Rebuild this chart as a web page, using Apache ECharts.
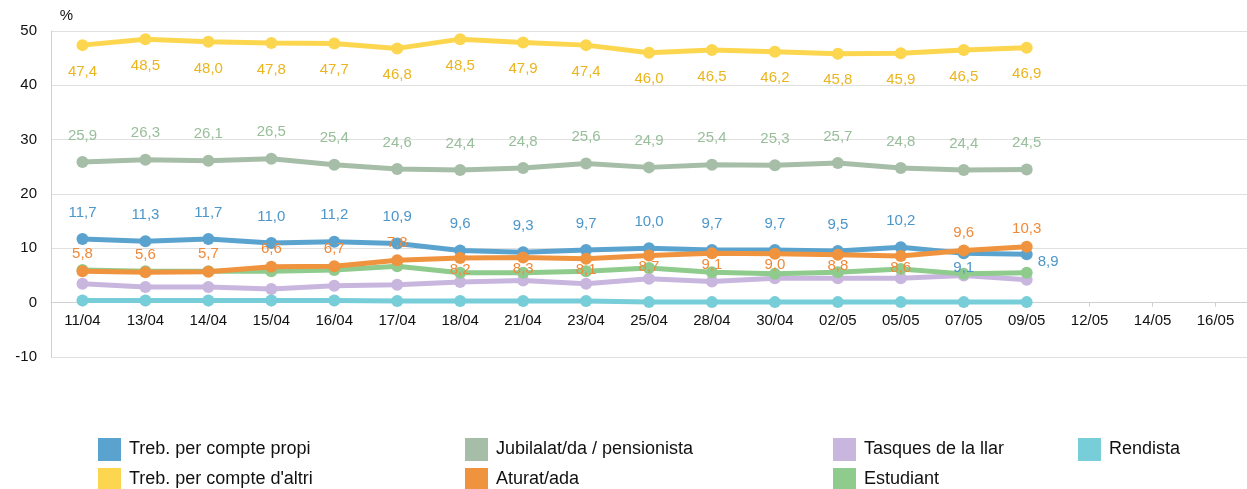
<!DOCTYPE html>
<html>
<head>
<meta charset="utf-8">
<script src="https://cdn.jsdelivr.net/npm/echarts@6/dist/echarts.min.js"></script>
<style>html,body{margin:0;padding:0;background:#fff}#c{width:1247px;height:489px}</style>
</head>
<body>
<div id="c"></div>
<script>
const categories = ['11/04','13/04','14/04','15/04','16/04','17/04','18/04','21/04','23/04','25/04','28/04','30/04','02/05','05/05','07/05','09/05','12/05','14/05','16/05'];
const propi = [11.7,11.3,11.7,11.0,11.2,10.9,9.6,9.3,9.7,10.0,9.7,9.7,9.5,10.2,9.1,8.9];
const altri = [47.4,48.5,48.0,47.8,47.7,46.8,48.5,47.9,47.4,46.0,46.5,46.2,45.8,45.9,46.5,46.9];
const jubilat = [25.9,26.3,26.1,26.5,25.4,24.6,24.4,24.8,25.6,24.9,25.4,25.3,25.7,24.8,24.4,24.5];
const aturat = [5.8,5.6,5.7,6.6,6.7,7.8,8.2,8.3,8.1,8.7,9.1,9.0,8.8,8.6,9.6,10.3];
const tasques = [3.5,2.9,2.9,2.5,3.1,3.3,3.8,4.1,3.5,4.4,3.9,4.5,4.5,4.5,5.0,4.2];
const estudiant = [6.0,5.8,5.8,5.8,6.0,6.7,5.5,5.5,5.8,6.4,5.6,5.3,5.6,6.2,5.3,5.5];
const rendista = [0.4,0.4,0.4,0.4,0.4,0.3,0.3,0.3,0.3,0.1,0.1,0.1,0.1,0.1,0.1,0.1];
const yTicks = [-10,0,10,20,30,40,50];

const fmt = v => (typeof v === 'object' ? v.value : v).toFixed(1).replace('.', ',');
const C = {
  propi:'#5BA3CF', altri:'#FDD64F', jubilat:'#A6BEA8', aturat:'#F0933E',
  tasques:'#C9B6DE', estudiant:'#8FCB8D', rendista:'#77CDD8'
};
const LC = { propi:'#4C96C9', altri:'#EBB51E', jubilat:'#98BE9A', aturat:'#F0893A' };
const FONT = 'Liberation Sans, Arial';

function mk(name, arr, color, labelOpt, perPoint) {
  return {
    name, type:'line', data: arr.map((v,i)=> perPoint && perPoint[i] ? {value:v, label:perPoint[i]} : v),
    symbol:'circle', symbolSize:12,
    lineStyle:{width:5, color}, itemStyle:{color},
    label: labelOpt ? Object.assign({show:true, fontSize:15, fontFamily:FONT, formatter:p=>fmt(p.value)}, labelOpt) : {show:false},
    emphasis:{disabled:true}, animation:false, z: 2
  };
}
const propiPP = {};
propiPP[14] = {position:'bottom', distance:1};
propiPP[15] = {position:'right', distance:5, offset:[0,8]};
const aturatPP = {};
for (let i=6;i<=13;i++) aturatPP[i] = {position:'bottom', distance:-2};

const series = [
  mk('Treb. per compte propi', propi, C.propi, {position:'top', distance:13, color:LC.propi}, propiPP),
  mk("Treb. per compte d'altri", altri, C.altri, {position:'bottom', distance:13, color:LC.altri}),
  mk('Jubilalat/da / pensionista', jubilat, C.jubilat, {position:'top', distance:13, color:LC.jubilat}),
  mk('Aturat/ada', aturat, C.aturat, {position:'top', distance:4, color:LC.aturat}, aturatPP),
  mk('Tasques de la llar', tasques, C.tasques, null),
  mk('Estudiant', estudiant, C.estudiant, null),
  mk('Rendista', rendista, C.rendista, null)
];
series[3].z = 3;

const legendPos = [
  ['Treb. per compte propi', 98, 438],
  ["Treb. per compte d'altri", 98, 468],
  ['Jubilalat/da / pensionista', 465, 438],
  ['Aturat/ada', 465, 468],
  ['Tasques de la llar', 833, 438],
  ['Estudiant', 833, 468],
  ['Rendista', 1078, 438]
];
const legends = legendPos.map(([n,x,y]) => ({
  data:[n], left:x, top:y, padding:0, itemWidth:23, itemHeight:23, itemGap:0, icon:'rect',
  textStyle:{fontSize:18, color:'#111', fontFamily:FONT, padding:[0,0,0,3]}, selectedMode:false
}));

const chart = echarts.init(document.getElementById('c'));
chart.setOption({
  animation:false,
  grid:{left:51, right:0, top:31, bottom:132},
  legend:legends,
  xAxis:{type:'category', data:categories, boundaryGap:true,
    axisLine:{onZero:false, lineStyle:{color:'#d0d0d0'}},
    offset:-54.33,
    axisTick:{show:true, alignWithLabel:true, length:4, lineStyle:{color:'#d0d0d0'}},
    axisLabel:{color:'#111', fontSize:15, fontFamily:FONT, margin:11, interval:0}},
  yAxis:{type:'value', min:yTicks[0], max:yTicks[yTicks.length-1], interval:10,
    name:'%', nameLocation:'end', nameGap:8, nameTextStyle:{color:'#111', fontSize:15, fontFamily:FONT, align:'right', padding:[0,-22,0,0]},
    axisLine:{show:true, lineStyle:{color:'#d0d0d0'}}, axisTick:{show:false},
    axisLabel:{color:'#111', fontSize:15, fontFamily:FONT, margin:14},
    splitLine:{lineStyle:{color:'#e0e0e0'}}},
  series
});
</script>
</body>
</html>
